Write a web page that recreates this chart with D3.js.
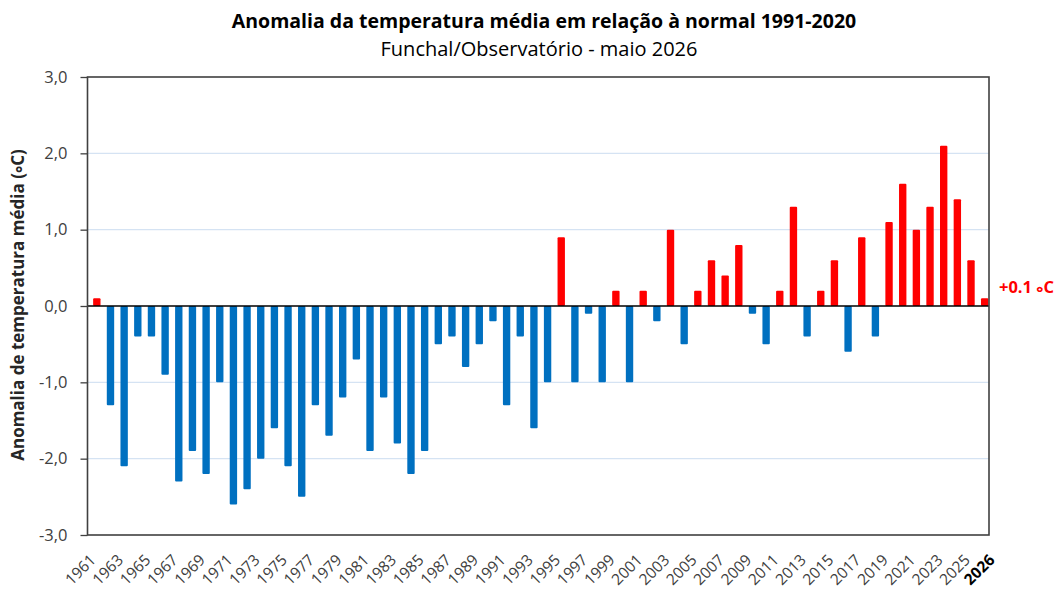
<!DOCTYPE html>
<html>
<head>
<meta charset="utf-8">
<script src="https://cdn.jsdelivr.net/npm/d3@7"></script>
<style>
  body { margin: 0; background: #fff; }
  text { font-family: "Open Sans", sans-serif; }
</style>
</head>
<body>
<div id="chart"></div>
<script>
// Data
var years = d3.range(1961, 2027);
var anomalies = [
  0.1, -1.3, -2.1, -0.4, -0.4, -0.9, -2.3, -1.9, -2.2, -1.0,
  -2.6, -2.4, -2.0, -1.6, -2.1, -2.5, -1.3, -1.7, -1.2, -0.7,
  -1.9, -1.2, -1.8, -2.2, -1.9, -0.5, -0.4, -0.8, -0.5, -0.2,
  -1.3, -0.4, -1.6, -1.0, 0.9, -1.0, -0.1, -1.0, 0.2, -1.0,
  0.2, -0.2, 1.0, -0.5, 0.2, 0.6, 0.4, 0.8, -0.1, -0.5,
  0.2, 1.3, -0.4, 0.2, 0.6, -0.6, 0.9, -0.4, 1.1, 1.6,
  1.0, 1.3, 2.1, 1.4, 0.6, 0.1
];
var yTicks = [-3, -2, -1, 0, 1, 2, 3];

var data = years.map(function(y, i) { return { year: y, value: anomalies[i] }; });

var svgWidth = 1061, svgHeight = 590;
var margin = { top: 77, right: 72, bottom: 55, left: 87.5 };
var width = svgWidth - margin.left - margin.right;
var height = svgHeight - margin.top - margin.bottom;

var svg = d3.select("#chart").append("svg")
  .attr("width", svgWidth)
  .attr("height", svgHeight);

var chartGroup = svg.append("g")
  .attr("transform", `translate(${margin.left}, ${margin.top})`);

// bars sit slightly right of the frame in the original
var x = d3.scaleBand()
  .domain(years)
  .range([2.5, width + 2.5])
  .paddingInner(0.46)
  .paddingOuter(0.23);

var y = d3.scaleLinear()
  .domain([-3, 3])
  .range([height, 0]);

// gridlines
chartGroup.append("g")
  .selectAll("line")
  .data(yTicks.filter(d => d !== 0 && Math.abs(d) !== 3))
  .enter()
  .append("line")
  .attr("x1", 0).attr("x2", width)
  .attr("y1", d => y(d)).attr("y2", d => y(d))
  .attr("stroke", "#d5e3f3")
  .attr("stroke-width", 1.2);

// bars
chartGroup.selectAll("rect.bar")
  .data(data)
  .enter()
  .append("rect")
  .attr("class", "bar")
  .attr("x", d => x(d.year))
  .attr("width", x.bandwidth())
  .attr("y", d => y(Math.max(0, d.value)))
  .attr("height", d => Math.abs(y(d.value) - y(0)))
  .attr("rx", 1)
  .attr("fill", d => d.value >= 0 ? "#ff0000" : "#0070c0");

// zero line
chartGroup.append("line")
  .attr("x1", 0).attr("x2", width)
  .attr("y1", y(0)).attr("y2", y(0))
  .attr("stroke", "#000")
  .attr("stroke-width", 1.3);

// frame
chartGroup.append("rect")
  .attr("x", 0).attr("y", 0)
  .attr("width", width).attr("height", height)
  .attr("fill", "none")
  .attr("stroke", "#404040")
  .attr("stroke-width", 1.6);

// y axis
var leftAxis = d3.axisLeft(y)
  .tickValues(yTicks)
  .tickSize(7)
  .tickPadding(13)
  .tickFormat(d => d3.format(".1f")(d).replace(".", ",").replace("−", "-"));

var yAxisG = chartGroup.append("g").call(leftAxis);
yAxisG.select(".domain").remove();
yAxisG.selectAll("line").attr("stroke", "#404040").attr("stroke-width", 1.3);
yAxisG.selectAll("text")
  .attr("fill", "#404040")
  .style("font-size", "16.5px")
  .style("font-family", "Open Sans, sans-serif");

// x axis labels (odd years + last year)
var labelYears = years.filter(d => d % 2 === 1 || d === 2026);
chartGroup.append("g")
  .selectAll("text")
  .data(labelYears)
  .enter()
  .append("text")
  .attr("transform", function(d) {
    var cx = x(d) + x.bandwidth() / 2 + (d === 2026 ? 11 : 0);
    return `translate(${cx}, ${height + 26}) rotate(-45)`;
  })
  .attr("text-anchor", "end")
  .style("font-size", "15.5px")
  .style("font-weight", d => d === 2026 ? "bold" : "normal")
  .attr("fill", d => d === 2026 ? "#000" : "#404040")
  .text(d => d);

// helper: text with a mid-height degree ring
function degreeText(sel, before, after) {
  sel.append("tspan").text(before);
  sel.append("tspan").attr("dy", "0.3em").text("\u00b0");
  sel.append("tspan").attr("dy", "-0.3em").text(after);
}

// last value label
var lastVal = chartGroup.append("text")
  .attr("x", width + 10)
  .attr("y", y(0) - 13)
  .attr("fill", "#ff0000")
  .style("font-size", "16.5px")
  .style("font-weight", "bold");
degreeText(lastVal, "+" + anomalies[anomalies.length - 1].toFixed(1) + " ", "C");

// y axis title
var yTitle = svg.append("text")
  .attr("transform", `translate(24, ${margin.top + height / 2 - 1}) rotate(-90)`)
  .attr("text-anchor", "middle")
  .attr("fill", "#262626")
  .style("font-size", "17px")
  .style("font-weight", "bold");
degreeText(yTitle, "Anomalia de temperatura média (", "C)");

// titles
svg.append("text")
  .attr("x", 544)
  .attr("y", 28)
  .attr("text-anchor", "middle")
  .attr("fill", "#000")
  .style("font-size", "19.5px")
  .style("font-weight", "bold")
  .text("Anomalia da temperatura média em relação à normal 1991-2020");

svg.append("text")
  .attr("x", 539)
  .attr("y", 56)
  .attr("text-anchor", "middle")
  .attr("fill", "#000")
  .style("font-size", "20px")
  .text("Funchal/Observatório - maio 2026");
</script>
</body>
</html>
